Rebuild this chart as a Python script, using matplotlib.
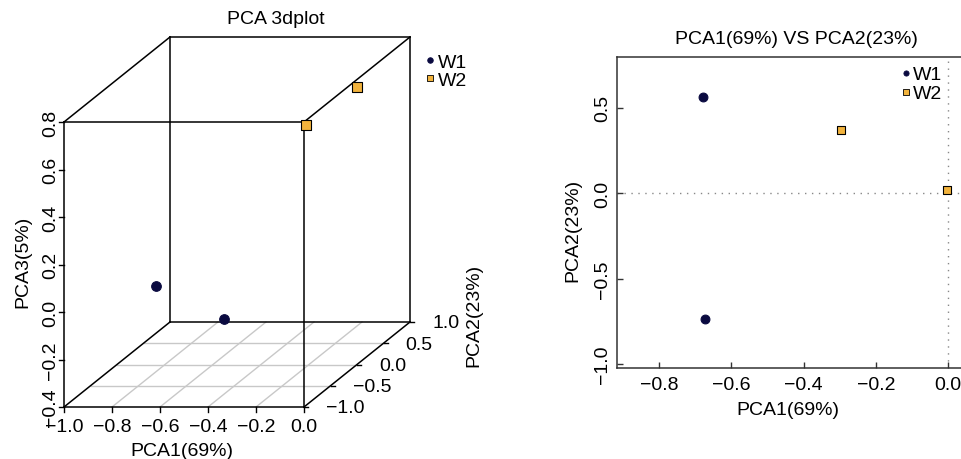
import matplotlib
matplotlib.use("Agg")
import matplotlib.pyplot as plt

plt.rcParams['font.family'] = ['Liberation Sans', 'DejaVu Sans']
plt.rcParams['font.size'] = 14

# PCA scores
samples = ["W1", "W1", "W2", "W2"]
pc1 = [-0.677, -0.674, -0.295, -0.004]
pc2 = [0.563, -0.735, 0.370, 0.019]
pc3 = [-0.309, 0.062, 0.542, 0.766]

groups = ["W1", "W2"]
colors = {"W1": "#0a0a40", "W2": "#f2b33d"}
markers = {"W1": "o", "W2": "s"}

x_ticks = [-1.0, -0.8, -0.6, -0.4, -0.2, 0.0]
y_ticks = [-1.0, -0.5, 0.0, 0.5, 1.0]
z_ticks = [-0.4, -0.2, 0.0, 0.2, 0.4, 0.6, 0.8]


def fmt(v):
    return f"{v:.1f}".replace("-", "\u2212")


fig = plt.figure(figsize=(9.61, 4.6), dpi=100)

# ---- left: oblique 3d plot drawn in pixel space ----
ax3 = fig.add_axes([0, 0, 480 / 961, 1])
ax3.set_xlim(0, 480)
ax3.set_ylim(460, 0)
ax3.axis("off")

X0, X1 = x_ticks[0], x_ticks[-1]
Y0, Y1 = y_ticks[0], y_ticks[-1]
Z0, Z1 = z_ticks[0], z_ticks[-1]


def proj(x, y, z):
    fy = (y - Y0) / (Y1 - Y0)
    px = 64 + (x - X0) / (X1 - X0) * 240 + fy * 106
    py = 408 - (z - Z0) / (Z1 - Z0) * 285 - fy * 85
    return px, py


def line3(p, q, **kw):
    a = proj(*p)
    b = proj(*q)
    ax3.plot([a[0], b[0]], [a[1], b[1]], **kw)


# floor grid
for yv in y_ticks[1:-1]:
    line3((X0, yv, Z0), (X1, yv, Z0), color="#c8c8c8", lw=1, zorder=1)
for xv in x_ticks[1:-1]:
    line3((xv, Y0, Z0), (xv, Y1, Z0), color="#c8c8c8", lw=1, zorder=1)

# box edges
box = dict(color="black", lw=1.1, zorder=2)
for yv in (Y0, Y1):
    line3((X0, yv, Z0), (X1, yv, Z0), **box)
    line3((X0, yv, Z1), (X1, yv, Z1), **box)
    line3((X0, yv, Z0), (X0, yv, Z1), **box)
    line3((X1, yv, Z0), (X1, yv, Z1), **box)
for xv in (X0, X1):
    for zv in (Z0, Z1):
        line3((xv, Y0, zv), (xv, Y1, zv), **box)

# x axis ticks + labels
for xv in x_ticks:
    px, py = proj(xv, Y0, Z0)
    ax3.plot([px, px], [py, py + 5], color="black", lw=1)
    ax3.text(px, py + 20, fmt(xv), ha="center", va="center")
ax3.text(182, 452, "PCA1(69%)", ha="center", va="center")

# z axis ticks + labels
for zv in z_ticks:
    px, py = proj(X0, Y0, zv)
    ax3.plot([px - 5, px], [py, py], color="black", lw=1)
    ax3.text(px - 13, py, fmt(zv), ha="center", va="center", rotation=90)
ax3.text(23, 262, "PCA3(5%)", ha="center", va="center", rotation=90)

# y axis ticks + labels
for yv in y_ticks:
    px, py = proj(X1, yv, Z0)
    ax3.plot([px, px + 4], [py, py], color="black", lw=1)
    ax3.text(px + 22, py + 1, fmt(yv), ha="left", va="center")
ax3.text(474, 315, "PCA2(23%)", ha="center", va="center", rotation=90)

ax3.text(276, 20, "PCA 3dplot", ha="center", va="center")

for g in groups:
    idx = [i for i, s in enumerate(samples) if s == g]
    pts = [proj(pc1[i], pc2[i], pc3[i]) for i in idx]
    ax3.scatter([p[0] for p in pts], [p[1] for p in pts], s=48, marker=markers[g],
                color=colors[g], edgecolor="black" if g == "W2" else colors[g],
                linewidth=0.8, zorder=5)

# legend 3d
for k, g in enumerate(groups):
    ax3.scatter([430], [61 + 18 * k], s=16, marker=markers[g], color=colors[g],
                edgecolor="black" if g == "W2" else colors[g], linewidth=0.6, zorder=5)
    ax3.text(438, 63 + 18 * k, g, ha="left", va="center", fontsize=14)

# ---- right: PCA1 vs PCA2 ----
ax = fig.add_axes([616.7 / 961, 1 - 369 / 460, 360.3 / 961, (369 - 57.7) / 460])
ax.axhline(0, color="#888888", lw=1, ls=(0, (1, 4)), zorder=1)
ax.axvline(0, color="#888888", lw=1, ls=(0, (1, 4)), zorder=1)
for g in groups:
    idx = [i for i, s in enumerate(samples) if s == g]
    ax.scatter([pc1[i] for i in idx], [pc2[i] for i in idx], s=40 if g == "W1" else 36,
               marker=markers[g], color=colors[g],
               edgecolor="black" if g == "W2" else colors[g], linewidth=0.8, zorder=5)
ax.set_xlim(-0.917, 0.080)
ax.set_ylim(-1.022, 0.799)
ax.set_xticks([-0.8, -0.6, -0.4, -0.2, 0.0])
ax.set_yticks([-1.0, -0.5, 0.0, 0.5])
ax.tick_params(direction="in", length=4, width=1, color="#333333")
ax.tick_params(axis="x", pad=6)
ax.tick_params(axis="y", pad=4)
for lab in ax.get_yticklabels():
    lab.set_rotation(90)
    lab.set_va("center")
for sp in ax.spines.values():
    sp.set_color("#333333")
    sp.set_linewidth(1.1)
ax.set_title("PCA1(69%) VS PCA2(23%)", fontsize=14, pad=10)
ax.set_xlabel("PCA1(69%)")
ax.set_ylabel("PCA2(23%)")
ax.xaxis.set_label_coords(0.475, -0.106)
ax.yaxis.set_label_coords(-0.099, 0.445)

# legend 2d
for k, g in enumerate(groups):
    yk = 0.948 - 0.061 * k
    ax.scatter([0.802], [yk], s=14, marker=markers[g], color=colors[g],
               edgecolor="black" if g == "W2" else colors[g], linewidth=0.6,
               transform=ax.transAxes, zorder=6, clip_on=False)
    ax.text(0.822, yk - 0.006, g, transform=ax.transAxes, ha="left", va="center", fontsize=14)

fig.savefig("out.png", dpi=100)
